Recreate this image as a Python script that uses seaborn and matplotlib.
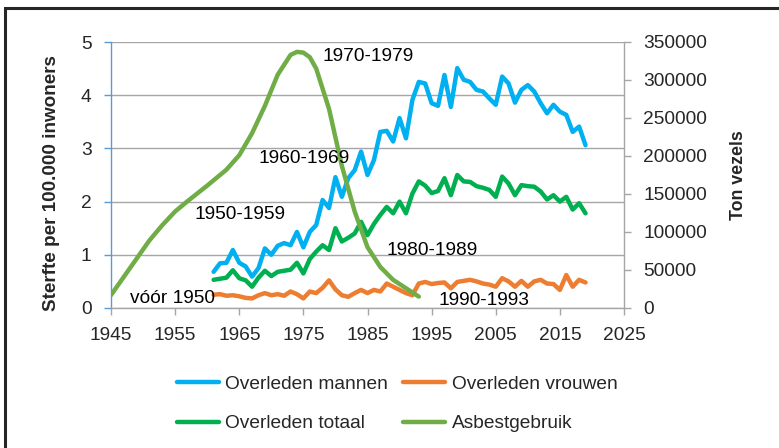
import numpy as np
import pandas as pd
import matplotlib.pyplot as plt
import seaborn as sns
from matplotlib.patches import Rectangle
from matplotlib.lines import Line2D

# sterfte per 100.000 inwoners, 1961-2019
jaren = list(range(1961, 2020))
mannen = [0.68, 0.84, 0.85, 1.09, 0.85, 0.78, 0.59, 0.75, 1.12, 1.00,
          1.17, 1.22, 1.18, 1.43, 1.14, 1.43, 1.56, 2.03, 1.88, 2.46,
          2.09, 2.44, 2.59, 2.94, 2.50, 2.78, 3.31, 3.33, 3.13, 3.57,
          3.19, 3.91, 4.25, 4.22, 3.85, 3.80, 4.38, 3.78, 4.51, 4.29,
          4.25, 4.10, 4.07, 3.94, 3.82, 4.35, 4.22, 3.86, 4.10, 4.19,
          4.07, 3.85, 3.66, 3.82, 3.69, 3.63, 3.31, 3.41, 3.06]
vrouwen = [0.25, 0.26, 0.23, 0.24, 0.22, 0.19, 0.18, 0.24, 0.28, 0.24,
           0.26, 0.23, 0.31, 0.26, 0.18, 0.31, 0.28, 0.38, 0.52, 0.35,
           0.24, 0.21, 0.28, 0.34, 0.28, 0.34, 0.31, 0.46, 0.40, 0.34,
           0.28, 0.24, 0.46, 0.49, 0.45, 0.47, 0.48, 0.37, 0.49, 0.51,
           0.53, 0.50, 0.46, 0.44, 0.40, 0.56, 0.50, 0.40, 0.51, 0.40,
           0.50, 0.53, 0.46, 0.45, 0.34, 0.62, 0.40, 0.53, 0.48]
totaal = [0.53, 0.55, 0.57, 0.71, 0.56, 0.52, 0.40, 0.57, 0.70, 0.60,
          0.68, 0.70, 0.72, 0.85, 0.65, 0.92, 1.06, 1.18, 1.09, 1.50,
          1.25, 1.32, 1.40, 1.62, 1.37, 1.58, 1.75, 1.90, 1.78, 2.00,
          1.78, 2.15, 2.38, 2.30, 2.16, 2.20, 2.44, 2.12, 2.50, 2.38,
          2.37, 2.29, 2.26, 2.22, 2.09, 2.47, 2.34, 2.12, 2.31, 2.29,
          2.28, 2.19, 2.04, 2.12, 2.00, 2.09, 1.85, 1.97, 1.78]

asbest_jaar = [1945, 1948, 1951, 1953, 1955, 1957, 1960, 1963, 1965, 1967,
               1969, 1971, 1973, 1974, 1975, 1976, 1977, 1979, 1981, 1983,
               1985, 1987, 1989, 1991, 1993]
asbest_ton = [17000, 53000, 89000, 109000, 127000, 141000, 161000, 182000, 201000, 230000,
              266000, 307000, 333000, 337000, 336000, 330000, 315000, 262000, 187000, 127000,
              80000, 54000, 37000, 26000, 15000]

periode_jaar = [1945, 1955, 1965, 1975, 1985, 1993]
periode_ton = [17000, 127000, 201000, 336000, 80000, 15000]
periode_tekst = ['vóór 1950', '1950-1959', '1960-1969', '1970-1979', '1980-1989', '1990-1993']

kleuren = {'Overleden mannen': '#00B0F0', 'Overleden vrouwen': '#ED7D31',
           'Overleden totaal': '#00B050', 'Asbestgebruik': '#70AD47'}

sns.set_style('white')
plt.rcParams['font.family'] = ['Liberation Sans', 'DejaVu Sans']
FS = 13.8

sterfte = pd.DataFrame({'jaar': jaren * 3,
                        'waarde': mannen + vrouwen + totaal,
                        'reeks': ['Overleden mannen'] * len(jaren)
                                 + ['Overleden vrouwen'] * len(jaren)
                                 + ['Overleden totaal'] * len(jaren)})
asbest = pd.DataFrame({'jaar': asbest_jaar, 'ton': asbest_ton})

fig = plt.figure(figsize=(7.79, 4.48), dpi=100)
ax = fig.add_axes([111 / 779, 1 - 308 / 448, 513 / 779, 266 / 448])
ax2 = ax.twinx()

sns.lineplot(data=sterfte, x='jaar', y='waarde', hue='reeks', palette=kleuren,
             linewidth=3.2, legend=False, ax=ax,
             hue_order=['Overleden mannen', 'Overleden vrouwen', 'Overleden totaal'])
sns.lineplot(data=asbest, x='jaar', y='ton', color=kleuren['Asbestgebruik'],
             linewidth=3.2, legend=False, ax=ax2)
for line in ax.lines + ax2.lines:
    line.set_solid_capstyle('round')
    line.set_solid_joinstyle('round')

ax.set_xlim(1945, 2025)
ax.set_ylim(0, 5)
ax2.set_ylim(0, 350000)
ax.set_xticks(range(1945, 2026, 10))
ax.set_yticks(range(0, 6))
ax2.set_yticks(range(0, 350001, 50000))

grijs = '#A6A6A6'
ax.grid(axis='y', color=grijs, linewidth=1.0)
ax.grid(axis='x', visible=False)
ax.set_axisbelow(True)

for a in (ax, ax2):
    for s in a.spines.values():
        s.set_visible(False)
ax.spines['left'].set_visible(True)
ax.spines['left'].set_color('#5B9BD5')
ax.spines['left'].set_linewidth(1.0)
ax.spines['bottom'].set_visible(True)
ax.spines['bottom'].set_color(grijs)
ax.spines['bottom'].set_linewidth(1.0)
ax2.spines['right'].set_visible(True)
ax2.spines['right'].set_color(grijs)
ax2.spines['right'].set_linewidth(1.0)

ax.tick_params(axis='y', direction='out', length=5, width=1, color='#5B9BD5',
               pad=9, labelsize=FS, left=True)
ax.tick_params(axis='x', direction='out', length=5, width=1, color=grijs,
               pad=9, labelsize=FS, bottom=True)
ax2.tick_params(axis='y', direction='out', length=5, width=1, color=grijs,
                pad=9, labelsize=FS, right=True)

ax.set_xlabel('')
ax.set_ylabel('Sterfte per 100.000 inwoners', fontsize=13.6, fontweight='bold')
ax.yaxis.set_label_coords((60 - 111) / 513, 0.47)
ax2.set_ylabel('Ton vezels', fontsize=12.8, fontweight='bold', rotation=90)
ax2.yaxis.set_label_coords((730 - 111) / 513, 0.5)

for jr, ton, tekst in zip(periode_jaar, periode_ton, periode_tekst):
    ax2.annotate(tekst, (jr, ton), xytext=(14, -2.5), textcoords='offset points',
                 ha='left', va='center', fontsize=FS, color='black')

namen = ['Overleden mannen', 'Overleden totaal', 'Overleden vrouwen', 'Asbestgebruik']
handles = [Line2D([], [], color=kleuren[n], linewidth=3.2) for n in namen]
fig.legend(handles, namen, loc='center', bbox_to_anchor=(397 / 779, 1 - 404 / 448),
           ncol=2, frameon=False, fontsize=FS, handlelength=2.2, handletextpad=0.35,
           columnspacing=0.75, labelspacing=1.15)

fig.patches.append(Rectangle((5 / 779, -0.2), 1.2, 1.2 - 8 / 448,
                             transform=fig.transFigure, fill=False,
                             edgecolor='#262626', linewidth=2.2))

fig.savefig('out.png', dpi=100)
